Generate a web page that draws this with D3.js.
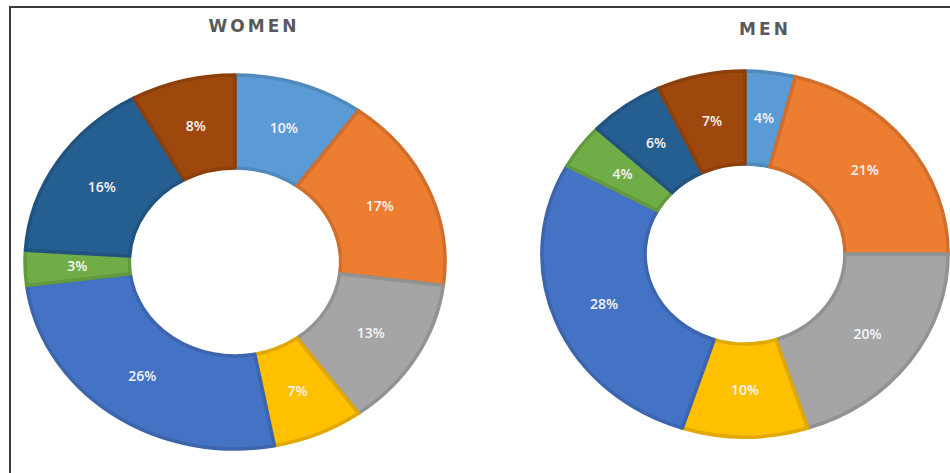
<!DOCTYPE html>
<html>
<head>
<meta charset="utf-8">
<script src="https://cdn.jsdelivr.net/npm/d3@7"></script>
<style>
  html, body { margin: 0; padding: 0; background: #fff; }
  svg { display: block; }
</style>
</head>
<body>
<svg id="chart" width="950" height="473"></svg>
<script>
// ---- data ----
const categories = ["Cat 1", "Cat 2", "Cat 3", "Cat 4", "Cat 5", "Cat 6", "Cat 7", "Cat 8"];
const womenValues = [10, 17, 13, 7, 26, 3, 16, 8];
const menValues = [4, 21, 20, 10, 28, 4, 6, 7];
const chartTitles = ["WOMEN", "MEN"];
const sliceColors = ["#5B9BD5", "#ED7D31", "#A5A5A5", "#FFC000", "#4472C4", "#70AD47", "#255E91", "#9E480E"];

// ---- layout ----
const svg = d3.select("#chart");
svg.append("rect")
  .attr("x", 10).attr("y", 7).attr("width", 980).attr("height", 500)
  .attr("fill", "none").attr("stroke", "#3a3a3a").attr("stroke-width", 2);

const panels = [
  { title: chartTitles[0], values: womenValues, cx: 235, cy: 262, rOuter: 187, rInner: 94, sx: 1.123, titleX: 254, titleY: 32 },
  { title: chartTitles[1], values: menValues, cx: 745, cy: 254, rOuter: 183, rInner: 90, sx: 1.11, titleX: 765, titleY: 35 }
];

const pie = d3.pie().sort(null).value(d => d.v);
const color = d3.scaleOrdinal().domain(categories).range(sliceColors);

panels.forEach(p => {
  const data = categories.map((c, i) => ({ c, v: p.values[i] }));
  const arcs = pie(data);
  const arc = d3.arc().innerRadius(p.rInner).outerRadius(p.rOuter);
  const labelArc = d3.arc().innerRadius((p.rInner + p.rOuter) / 2).outerRadius((p.rInner + p.rOuter) / 2);

  const g = svg.append("g").attr("transform", `translate(${p.cx},${p.cy}) scale(${p.sx},1)`);
  g.selectAll("path").data(arcs).enter().append("path")
    .attr("d", arc)
    .attr("fill", d => color(d.data.c))
    .attr("stroke", d => d3.color(color(d.data.c)).darker(0.35))
    .attr("stroke-width", 3.5)
    .attr("stroke-linejoin", "round")
    .attr("vector-effect", "non-scaling-stroke");

  const total = d3.sum(p.values);
  const lg = svg.append("g").attr("transform", `translate(${p.cx},${p.cy})`);
  lg.selectAll("text").data(arcs).enter().append("text")
    .attr("x", d => labelArc.centroid(d)[0] * p.sx)
    .attr("y", d => labelArc.centroid(d)[1])
    .attr("dy", "0.35em")
    .attr("text-anchor", "middle")
    .attr("font-family", "'Open Sans', 'Liberation Sans', sans-serif")
    .attr("font-weight", 600)
    .attr("font-size", 14)
    .attr("fill", "#f4f4f4")
    .text(d => Math.round(d.data.v / total * 100) + "%");

  svg.append("text")
    .attr("x", p.titleX).attr("y", p.titleY)
    .attr("text-anchor", "middle")
    .attr("font-family", "'DejaVu Sans', 'Open Sans', sans-serif")
    .attr("font-weight", 700)
    .attr("font-size", 17)
    .attr("letter-spacing", 3)
    .attr("fill", "#595959")
    .text(p.title);
});
</script>
</body>
</html>
